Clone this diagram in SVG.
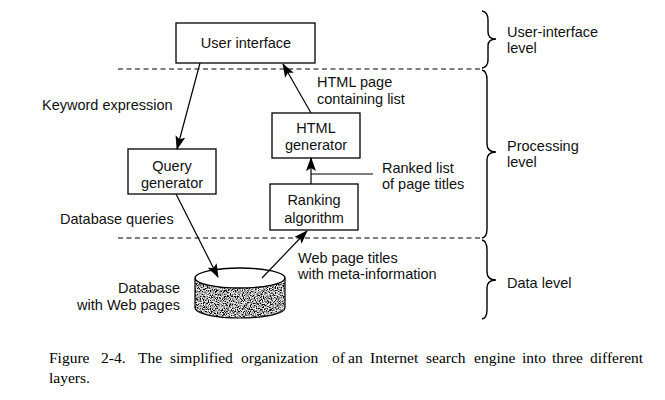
<svg xmlns="http://www.w3.org/2000/svg" width="665" height="400" viewBox="0 0 665 400">
<style>
  .box { fill: #fff; stroke: #000; stroke-width: 1.3; }
  .lbl { font-family: "Liberation Sans", Arial, sans-serif; font-size: 14.5px; fill: #111; }
  .mid { text-anchor: middle; }
  .end { text-anchor: end; }
  .dash { stroke: #000; stroke-width: 1.2; stroke-dasharray: 5 3.5; fill: none; }
  .conn { stroke: #000; stroke-width: 1.2; fill: none; }
  .brace { stroke: #000; stroke-width: 1.4; fill: none; }
  .cap { font-family: "Liberation Serif", "Times New Roman", serif; font-size: 15.5px; fill: #000; }
</style>
<defs>
  <marker id="arr" markerUnits="userSpaceOnUse" markerWidth="14" markerHeight="12" viewBox="0 0 14 12" refX="13" refY="6" orient="auto">
    <path d="M0,1 L14,6 L0,11 L3,6 Z" fill="#000"/>
  </marker>
  <filter id="stipple" x="0" y="0" width="100%" height="100%">
    <feTurbulence type="fractalNoise" baseFrequency="0.85" numOctaves="2" seed="7" result="n"/>
    <feColorMatrix in="n" type="matrix" values="0 0 0 0 0  0 0 0 0 0  0 0 0 0 0  3.2 0 0 0 -1.0" result="dots"/>
    <feFlood flood-color="#ffffff" result="w"/>
    <feComposite in="dots" in2="w" operator="over" result="sp"/>
    <feComposite in="sp" in2="SourceAlpha" operator="in"/>
  </filter>
</defs>
<rect width="665" height="400" fill="#fff"/>

<!-- level separators -->
<g id="separators">
  <line class="dash" x1="118" y1="69" x2="482" y2="69"/>
  <line class="dash" x1="118" y1="238" x2="482" y2="238"/>
</g>

<!-- braces -->
<g id="braces">
  <path class="brace" d="M482,11 Q488,12 488,20 L488,32 Q488,39 496,39 Q488,39 488,46 L488,60 Q488,67 482,68"/>
  <path class="brace" d="M482,70 Q487,71 487,80 L487,144 Q487,152 496,152 Q487,152 487,160 L487,229 Q487,237 482,238"/>
  <path class="brace" d="M482,240 Q487,241 487,250 L487,272 Q487,280 496,280 Q487,280 487,288 L487,310 Q487,318 482,319"/>
</g>
<g id="level-labels">
  <text class="lbl" x="507" y="37">User-interface</text>
  <text class="lbl" x="507" y="53">level</text>
  <text class="lbl" x="507" y="151">Processing</text>
  <text class="lbl" x="507" y="167">level</text>
  <text class="lbl" x="507" y="288">Data level</text>
</g>

<!-- nodes -->
<g id="user-interface">
  <rect class="box" x="176" y="23" width="139" height="40"/>
  <text class="lbl mid" x="246" y="48">User interface</text>
</g>
<g id="query-generator">
  <rect class="box" x="128" y="149" width="88" height="45"/>
  <text class="lbl mid" x="172" y="171">Query</text>
  <text class="lbl mid" x="172" y="188">generator</text>
</g>
<g id="html-generator">
  <rect class="box" x="272" y="113" width="88" height="45"/>
  <text class="lbl mid" x="316" y="133">HTML</text>
  <text class="lbl mid" x="316" y="150">generator</text>
</g>
<g id="ranking-algorithm">
  <rect class="box" x="270" y="184" width="88" height="46"/>
  <text class="lbl mid" x="314" y="205">Ranking</text>
  <text class="lbl mid" x="314" y="223">algorithm</text>
</g>
<g id="database">
  <path d="M195,278 L195,308 A45,10 0 0 0 285,308 L285,278 Z" fill="#888" filter="url(#stipple)"/>
  <path class="conn" d="M195,278 L195,308 A45,10 0 0 0 285,308 L285,278" stroke-width="1.4"/>
  <ellipse cx="240" cy="278" rx="45" ry="10" fill="#fff" stroke="#000" stroke-width="1.4"/>
  <text class="lbl end" x="180" y="293">Database</text>
  <text class="lbl end" x="180" y="310">with Web pages</text>
</g>

<!-- connectors -->
<g id="connectors">
  <line class="conn" x1="200" y1="63" x2="177" y2="149" marker-end="url(#arr)"/>
  <line class="conn" x1="311" y1="113" x2="283" y2="64" marker-end="url(#arr)"/>
  <line class="conn" x1="311" y1="184" x2="311" y2="158" marker-end="url(#arr)"/>
  <line class="conn" x1="311" y1="174" x2="373" y2="174"/>
  <line class="conn" x1="176" y1="194" x2="218" y2="277" marker-end="url(#arr)"/>
  <line class="conn" x1="262" y1="278" x2="307" y2="231" marker-end="url(#arr)"/>
</g>

<!-- connector labels -->
<g id="connector-labels">
  <text class="lbl" x="42" y="110">Keyword expression</text>
  <text class="lbl" x="317" y="87">HTML page</text>
  <text class="lbl" x="317" y="104">containing list</text>
  <text class="lbl" x="382" y="173">Ranked list</text>
  <text class="lbl" x="382" y="189">of page titles</text>
  <text class="lbl" x="60" y="224">Database queries</text>
  <text class="lbl" x="298" y="263">Web page titles</text>
  <text class="lbl" x="298" y="279">with meta-information</text>
</g>

<!-- caption -->
<g id="caption">
  <text class="cap" y="363"><tspan x="49">Figure</tspan><tspan x="101">2-4.</tspan><tspan x="138">The</tspan><tspan x="170">simplified</tspan><tspan x="241">organization</tspan><tspan x="332">of</tspan><tspan x="348">an</tspan><tspan x="370">Internet</tspan><tspan x="426">search</tspan><tspan x="474">engine</tspan><tspan x="522">into</tspan><tspan x="552">three</tspan><tspan x="590">different</tspan></text>
  <text class="cap" x="49" y="383">layers.</text>
</g>
</svg>
